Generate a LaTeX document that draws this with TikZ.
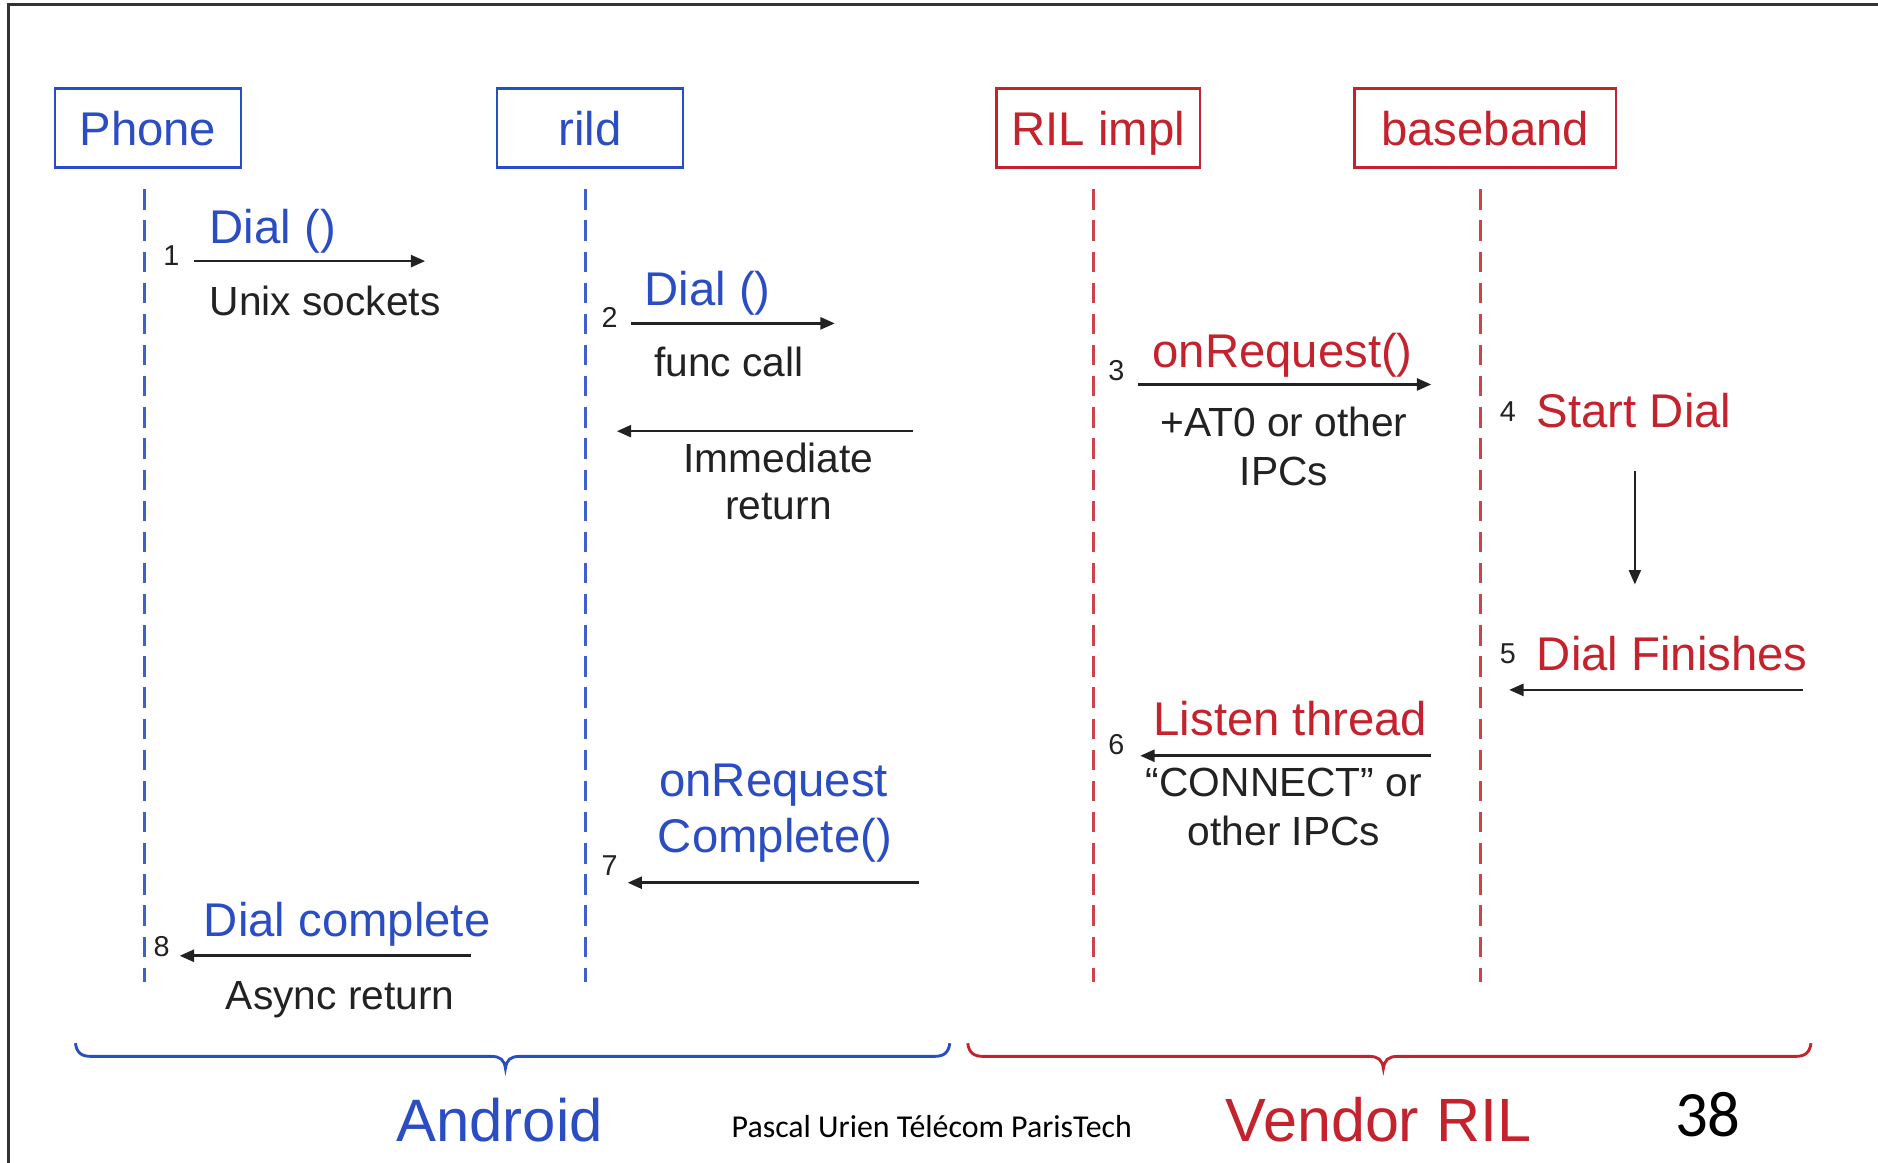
\documentclass[tikz,border=0pt]{standalone}
\usepackage{fontspec}
\setmainfont{Liberation Sans}
\newfontfamily\calfont{Carlito}
\usetikzlibrary{arrows.meta}
\definecolor{ablue}{RGB}{43,77,196}
\definecolor{vred}{RGB}{196,34,44}
\definecolor{ink}{RGB}{34,34,34}
\tikzset{
  actor/.style={draw, line width=2pt, minimum height=66pt, inner sep=0pt,
    font=\fontsize{39.5}{45}\selectfont, text height=28.3pt, text depth=0pt},
  big/.style={inner sep=0pt, font=\fontsize{39.5}{45}\selectfont, text height=28.3pt, text depth=0pt},
  mid/.style={inner sep=0pt, text=ink, font=\fontsize{34}{40}\selectfont, text height=24.3pt, text depth=0pt},
  num/.style={inner sep=0pt, text=ink, font=\fontsize{24}{28}\selectfont, text height=17.2pt, text depth=0pt},
  life/.style={line width=2.6pt, dash pattern=on 17pt off 9pt},
  msg/.style={line width=2.2pt, ink, -{Triangle[length=12pt,width=10pt]}},
  brace/.style={line width=2.4pt},
}
\begin{document}
\begin{tikzpicture}[x=1pt,y=-1pt]
\useasboundingbox (0,0) rectangle (1568,971);
% frame
\draw[line width=2.5pt, black!80] (7,971) -- (7,4) -- (1568,4);

% actors
\node[actor, ablue, minimum width=155pt] (phone) at (123.5,107) {Phone};
\node[actor, ablue, minimum width=155pt] (rild) at (492.5,107) {rild};
\node[actor, vred, minimum width=170pt] (ril) at (917,107) {RIL impl};
\node[actor, vred, minimum width=218pt] (bb) at (1240,107) {baseband};

% lifelines
\coordinate (p0) at (121,158); \coordinate (p1) at (121,820);
\coordinate (r0) at (489,158); \coordinate (r1) at (489,820);
\coordinate (i0) at (913,158); \coordinate (i1) at (913,820);
\coordinate (b0) at (1236,158); \coordinate (b1) at (1236,820);
\draw[life, ablue!90] (p0) -- (p1);
\draw[life, ablue!90] (r0) -- (r1);
\draw[life, vred!85] (i0) -- (i1);
\draw[life, vred!85] (b0) -- (b1);

% message 1
\node[num] (n1) at (143,213) {1};
\node[big, ablue, anchor=west] (m1) at (175,189) {Dial ()};
\coordinate (a1s) at (162,218); \coordinate (a1e) at (355,218);
\draw[msg] (a1s) -- (a1e);
\node[mid, anchor=west] (l1) at (175,251) {Unix sockets};

% message 2
\node[num] (n2) at (509,265) {2};
\node[big, ablue, anchor=west] (m2) at (538,241) {Dial ()};
\coordinate (a2s) at (527,270); \coordinate (a2e) at (697,270);
\draw[msg] (a2s) -- (a2e);
\node[mid, anchor=west] (l2) at (546,302) {func call};

% immediate return
\coordinate (ars) at (762,360); \coordinate (are) at (515,360);
\draw[msg] (ars) -- (are);
\node[mid] (lr1) at (650,382) {Immediate};
\node[mid] (lr2) at (650,422) {return};

% message 3
\node[num] (n3) at (932,309) {3};
\node[big, vred, anchor=west] (m3) at (962,293) {onRequest()};
\coordinate (a3s) at (950,321); \coordinate (a3e) at (1195,321);
\draw[msg] (a3s) -- (a3e);
\node[mid] (l3a) at (1072,352) {+AT0 or other};
\node[mid] (l3b) at (1072,393) {IPCs};

% step 4
\node[num] (n4) at (1259,343) {4};
\node[big, vred, anchor=west] (m4) at (1283,343) {Start Dial};
\coordinate (a4s) at (1365,393); \coordinate (a4e) at (1365,488);
\draw[msg, line width=1.8pt] (a4s) -- (a4e);

% step 5
\node[num] (n5) at (1259,545) {5};
\node[big, vred, anchor=west] (m5) at (1283,546) {Dial Finishes};
\coordinate (a5s) at (1505,576); \coordinate (a5e) at (1260,576);
\draw[msg] (a5s) -- (a5e);

% message 6
\node[num] (n6) at (932,621) {6};
\node[big, vred, anchor=west] (m6) at (963,600) {Listen thread};
\coordinate (a6s) at (1195,631); \coordinate (a6e) at (952,631);
\draw[msg] (a6s) -- (a6e);
\node[mid] (l6a) at (1072,653) {“CONNECT” or};
\node[mid] (l6b) at (1072,694) {other IPCs};

% message 7
\node[big, ablue] (m7a) at (646,651) {onRequest};
\node[big, ablue] (m7b) at (647,698) {Complete()};
\node[num] (n7) at (509,722) {7};
\coordinate (a7s) at (767,737); \coordinate (a7e) at (524,737);
\draw[msg] (a7s) -- (a7e);

% message 8
\node[big, ablue, anchor=west] (m8) at (170,768) {Dial complete};
\node[num] (n8) at (135,790) {8};
\coordinate (a8s) at (393,798); \coordinate (a8e) at (150,798);
\draw[msg] (a8s) -- (a8e);
\node[mid] (l8) at (284,831) {Async return};

% braces
\draw[brace, ablue] (63,871) .. controls (64,879) and (68,882) .. (76,882) -- (410,882)
  .. controls (418,882) and (421,885) .. (422,892)
  .. controls (423,885) and (426,882) .. (434,882) -- (780,882)
  .. controls (788,882) and (792,879) .. (793,871);
\draw[brace, vred] (808,871) .. controls (809,879) and (813,882) .. (821,882) -- (1143,882)
  .. controls (1151,882) and (1154,885) .. (1155,892)
  .. controls (1156,885) and (1159,882) .. (1167,882) -- (1499,882)
  .. controls (1507,882) and (1511,879) .. (1512,871);

% group labels
\node[inner sep=0pt, ablue, font=\fontsize{50}{56}\selectfont, text height=35.8pt, text depth=0pt] (android) at (417,935) {Android};
\node[inner sep=0pt, vred, font=\fontsize{51}{56}\selectfont, text height=36.5pt, text depth=0pt] (vendor) at (1151,935) {Vendor RIL};
\node[inner sep=0pt, font=\calfont\fontsize{26.6}{30}\selectfont, text height=17pt, text depth=0pt] (footer) at (778,941) {Pascal Urien Télécom ParisTech};
\node[inner sep=0pt, font=\calfont\fontsize{54}{60}\selectfont, text height=34pt, text depth=0pt] (page) at (1426,932) {38};
\end{tikzpicture}
\end{document}
